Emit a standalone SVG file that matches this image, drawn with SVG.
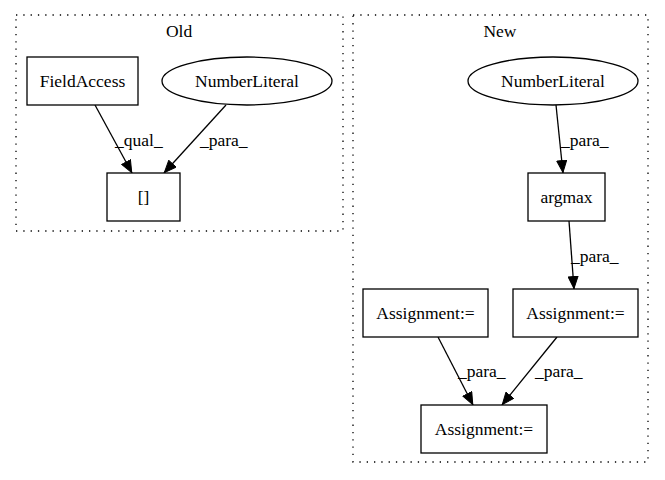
<svg xmlns="http://www.w3.org/2000/svg" width="665" height="480" viewBox="0 0 665 480">
<style>
text { font-family: "Liberation Serif", "Times New Roman", serif; font-size: 17.5px; fill: #000; }
.mid { text-anchor: middle; }
.cluster { fill: none; stroke: #000; stroke-dasharray: 1.3 6; stroke-width: 1.3; }
.node { fill: #fff; stroke: #000; stroke-width: 1.3; }
.edge { fill: none; stroke: #000; stroke-width: 1.3; }
</style>
<defs>
<marker id="arrow" viewBox="0 0 13 11" refX="13" refY="5.5" markerWidth="13" markerHeight="11" markerUnits="userSpaceOnUse" orient="auto">
<path d="M0.5,0.5 L12.5,5.5 L0.5,10.5 Z" fill="#000" stroke="#000"/>
</marker>
</defs>
<rect width="665" height="480" fill="#fff"/>
<g id="cluster_old">
<rect class="cluster" x="16" y="15" width="327" height="216"/>
<text class="mid" x="179" y="37">Old</text>
</g>
<g id="cluster_new">
<rect class="cluster" x="353" y="15" width="295" height="447"/>
<text class="mid" x="500" y="37">New</text>
</g>
<g id="connectors">
<path class="edge" d="M95,105 L132,173" marker-end="url(#arrow)"/>
<text x="115" y="146">_qual_</text>
<path class="edge" d="M226,105 L164,173" marker-end="url(#arrow)"/>
<text x="200" y="146">_para_</text>
<path class="edge" d="M556,105 L563,173" marker-end="url(#arrow)"/>
<text x="561" y="146">_para_</text>
<path class="edge" d="M569,221 L574,289" marker-end="url(#arrow)"/>
<text x="571" y="262">_para_</text>
<path class="edge" d="M438,337 L473,405" marker-end="url(#arrow)"/>
<text x="458" y="377">_para_</text>
<path class="edge" d="M557,337 L502,405" marker-end="url(#arrow)"/>
<text x="535" y="377">_para_</text>
</g>
<g id="node_fieldaccess">
<rect class="node" x="27" y="57" width="111" height="48"/>
<text class="mid" x="82.5" y="87">FieldAccess</text>
</g>
<g id="node_numberliteral_old">
<ellipse class="node" cx="247" cy="81" rx="85" ry="24"/>
<text class="mid" x="247" y="87">NumberLiteral</text>
</g>
<g id="node_index">
<rect class="node" x="107" y="173" width="73" height="48"/>
<text class="mid" x="143.5" y="203">[]</text>
</g>
<g id="node_numberliteral_new">
<ellipse class="node" cx="553" cy="81" rx="85" ry="24"/>
<text class="mid" x="553" y="87">NumberLiteral</text>
</g>
<g id="node_argmax">
<rect class="node" x="528" y="173" width="77" height="48"/>
<text class="mid" x="566.5" y="203">argmax</text>
</g>
<g id="node_assign_left">
<rect class="node" x="363" y="289" width="125" height="48"/>
<text class="mid" x="425.5" y="319">Assignment:=</text>
</g>
<g id="node_assign_right">
<rect class="node" x="513" y="289" width="125" height="48"/>
<text class="mid" x="575.5" y="319">Assignment:=</text>
</g>
<g id="node_assign_bottom">
<rect class="node" x="421" y="405" width="126" height="48"/>
<text class="mid" x="484" y="435">Assignment:=</text>
</g>
</svg>
